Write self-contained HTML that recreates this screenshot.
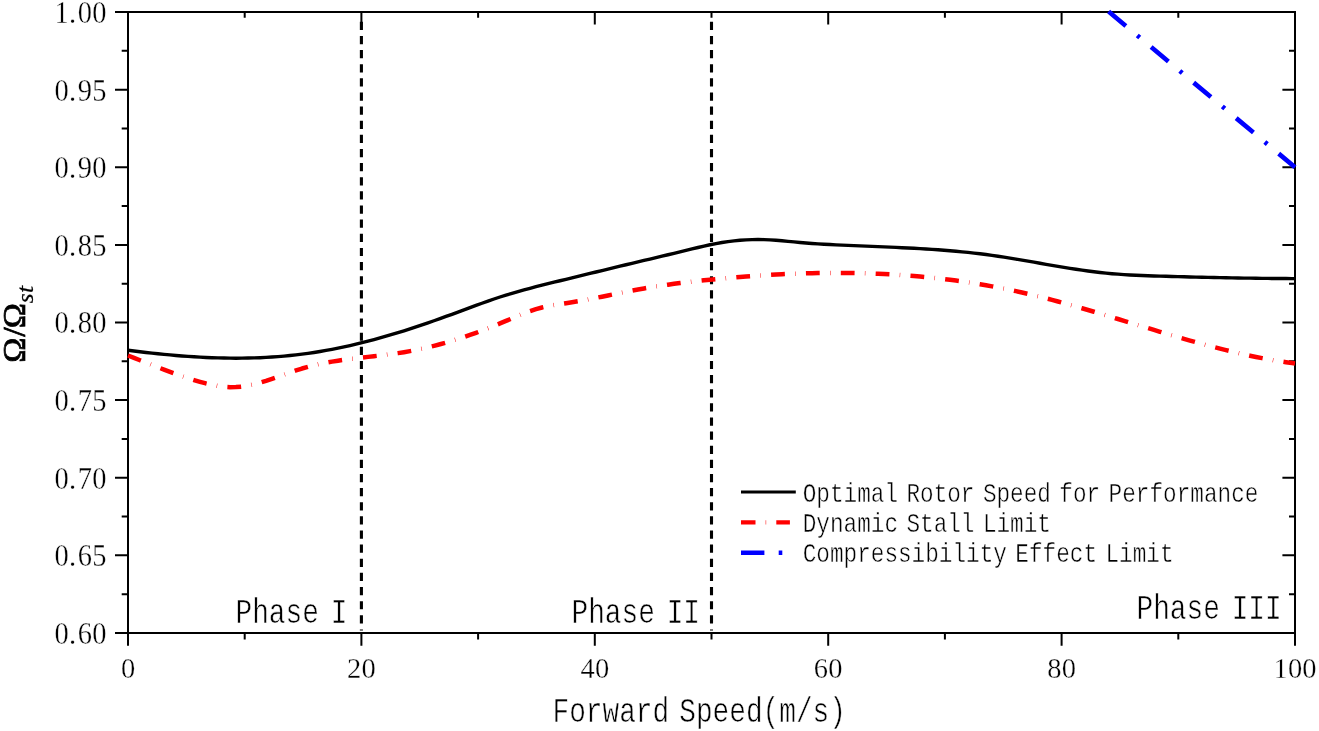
<!DOCTYPE html>
<html lang="en">
<head>
<meta charset="utf-8">
<title>Rotor speed limits versus forward speed</title>
<style>
html,body{margin:0;padding:0;background:#fff;}
body{width:1319px;height:731px;overflow:hidden;}
svg{display:block;}
text{white-space:pre;}
</style>
</head>
<body>
<svg width="1319" height="731" viewBox="0 0 1319 731">
<rect width="1319" height="731" fill="#fff"/>
<g stroke="#000" stroke-width="2" fill="none">
<path d="M115 633H128M1282.4 633H1295M121.7 594.19H128M1289 594.19H1295M115 555.37H128M1282.4 555.37H1295M121.7 516.56H128M1289 516.56H1295M115 477.75H128M1282.4 477.75H1295M121.7 438.94H128M1289 438.94H1295M115 400.12H128M1282.4 400.12H1295M121.7 361.31H128M1289 361.31H1295M115 322.5H128M1282.4 322.5H1295M121.7 283.69H128M1289 283.69H1295M115 244.88H128M1282.4 244.88H1295M121.7 206.06H128M1289 206.06H1295M115 167.25H128M1282.4 167.25H1295M121.7 128.44H128M1289 128.44H1295M115 89.63H128M1282.4 89.63H1295M121.7 50.81H128M1289 50.81H1295M115 12H128M1282.4 12H1295M128 633V645.7M128 12V24.6M244.7 633V639.4M244.7 12V17.8M361.4 633V645.7M361.4 12V24.6M478.1 633V639.4M478.1 12V17.8M594.8 633V645.7M594.8 12V24.6M711.5 633V639.4M711.5 12V17.8M828.2 633V645.7M828.2 12V24.6M944.9 633V639.4M944.9 12V17.8M1061.6 633V645.7M1061.6 12V24.6M1178.3 633V639.4M1178.3 12V17.8M1295 633V645.7M1295 12V24.6"/>
<rect x="128" y="12" width="1167" height="621"/>
</g>
<line x1="361.4" y1="21.8" x2="361.4" y2="630.4" stroke="#000" stroke-width="3.1" stroke-dasharray="8.2 5.93"/>
<line x1="711.5" y1="21.8" x2="711.5" y2="630.4" stroke="#000" stroke-width="3.1" stroke-dasharray="8.2 5.93"/>
<g fill="none" stroke-linejoin="round">
<path d="M128 350.28 134 351.03 140 351.76 146 352.46 152 353.13 158 353.76 164 354.36 170 354.93 176 355.45 182 355.94 188 356.38 194 356.78 200 357.14 206 357.44 212 357.7 218 357.9 224 358.05 230 358.14 236 358.18 242 358.15 248 358.07 254 357.92 260 357.7 266 357.42 272 357.06 278 356.64 284 356.14 290 355.56 296 354.91 302 354.18 308 353.36 314 352.47 320 351.5 326 350.45 332 349.33 338 348.14 344 346.88 350 345.55 356 344.15 362 342.68 368 341.16 374 339.57 380 337.92 386 336.21 392 334.45 398 332.64 404 330.77 410 328.86 416 326.89 422 324.88 428 322.83 434 320.74 440 318.61 446 316.46 452 314.29 458 312.09 464 309.89 470 307.67 476 305.44 482 303.23 488 301.07 494 298.99 500 297.01 506 295.13 512 293.32 518 291.59 524 289.92 530 288.3 536 286.73 542 285.2 548 283.7 554 282.22 560 280.75 566 279.28 572 277.81 578 276.35 584 274.89 590 273.44 596 271.98 602 270.54 608 269.09 614 267.64 620 266.2 626 264.77 632 263.33 638 261.9 644 260.47 650 259.04 656 257.61 662 256.17 668 254.74 674 253.3 680 251.85 686 250.4 692 248.94 698 247.49 704 246.08 710 244.77 716 243.58 722 242.53 728 241.63 734 240.88 740 240.29 746 239.86 752 239.6 758 239.51 764 239.6 770 239.86 776 240.26 782 240.76 788 241.32 794 241.9 800 242.48 806 243.01 812 243.47 818 243.88 824 244.24 830 244.56 836 244.86 842 245.14 848 245.4 854 245.66 860 245.91 866 246.15 872 246.4 878 246.64 884 246.89 890 247.15 896 247.41 902 247.69 908 247.99 914 248.3 920 248.64 926 249 932 249.38 938 249.8 944 250.25 950 250.73 956 251.26 962 251.82 968 252.43 974 253.08 980 253.79 986 254.55 992 255.36 998 256.23 1004 257.14 1010 258.1 1016 259.09 1022 260.11 1028 261.14 1034 262.19 1040 263.24 1046 264.3 1052 265.34 1058 266.36 1064 267.37 1070 268.34 1076 269.27 1082 270.16 1088 271 1094 271.78 1100 272.5 1106 273.14 1112 273.7 1118 274.18 1124 274.6 1130 274.96 1136 275.26 1142 275.53 1148 275.75 1154 275.95 1160 276.13 1166 276.3 1172 276.46 1178 276.63 1184 276.78 1190 276.94 1196 277.09 1202 277.23 1208 277.37 1214 277.5 1220 277.63 1226 277.75 1232 277.87 1238 277.98 1244 278.08 1250 278.17 1256 278.26 1262 278.34 1268 278.41 1274 278.47 1280 278.52 1286 278.56 1292 278.59 1295 278.6" stroke="#000" stroke-width="3.4"/>
<path d="M128 355.52 134 357.86 140 360.22 146 362.59 152 364.95 158 367.3 164 369.61 170 371.87 176 374.06 182 376.16 188 378.17 194 380.07 200 381.83 206 383.45 212 384.85 218 385.98 224 386.77 230 387.17 236 387.1 242 386.56 248 385.6 254 384.29 260 382.69 266 380.86 272 378.86 278 376.76 284 374.61 290 372.48 296 370.43 302 368.53 308 366.81 314 365.28 320 363.92 326 362.71 332 361.63 338 360.66 344 359.79 350 358.99 356 358.25 362 357.55 368 356.87 374 356.19 380 355.49 386 354.76 392 353.98 398 353.12 404 352.18 410 351.12 416 349.96 422 348.69 428 347.32 434 345.84 440 344.27 446 342.59 452 340.82 458 338.95 464 337 470 334.95 476 332.82 482 330.6 488 328.29 494 325.91 500 323.45 506 320.92 512 318.33 518 315.78 524 313.34 530 311.08 536 309.1 542 307.46 548 306.13 554 305.04 560 304.08 566 303.19 572 302.27 578 301.27 584 300.21 590 299.08 596 297.9 602 296.69 608 295.46 614 294.23 620 293 626 291.79 632 290.61 638 289.48 644 288.41 650 287.39 656 286.43 662 285.52 668 284.66 674 283.84 680 283.07 686 282.33 692 281.63 698 280.96 704 280.31 710 279.7 716 279.1 722 278.53 728 277.98 734 277.46 740 276.96 746 276.48 752 276.04 758 275.62 764 275.23 770 274.86 776 274.53 782 274.22 788 273.94 794 273.69 800 273.48 806 273.29 812 273.14 818 273.02 824 272.94 830 272.88 836 272.86 842 272.88 848 272.93 854 273.02 860 273.14 866 273.31 872 273.51 878 273.74 884 274.02 890 274.34 896 274.7 902 275.09 908 275.53 914 276.01 920 276.54 926 277.1 932 277.71 938 278.37 944 279.07 950 279.81 956 280.6 962 281.44 968 282.32 974 283.25 980 284.23 986 285.26 992 286.34 998 287.47 1004 288.65 1010 289.88 1016 291.16 1022 292.5 1028 293.88 1034 295.32 1040 296.8 1046 298.32 1052 299.89 1058 301.49 1064 303.13 1070 304.81 1076 306.51 1082 308.23 1088 309.98 1094 311.75 1100 313.54 1106 315.35 1112 317.16 1118 318.99 1124 320.82 1130 322.65 1136 324.49 1142 326.32 1148 328.15 1154 329.97 1160 331.78 1166 333.58 1172 335.36 1178 337.12 1184 338.85 1190 340.57 1196 342.25 1202 343.91 1208 345.53 1214 347.11 1220 348.66 1226 350.16 1232 351.62 1238 353.03 1244 354.38 1250 355.69 1256 356.94 1262 358.13 1268 359.25 1274 360.32 1280 361.31 1286 362.23 1292 363.08 1295 363.48" stroke="#f00" stroke-width="4.5" stroke-dasharray="13.8 10.285 0.5 10.285"/>
<path d="M1108.6 11.6L1295 167.25" stroke="#00f" stroke-width="4.6" stroke-dasharray="22.5 14.85 3.2 14.85"/>
<path d="M741 491.9H795.8" stroke="#000" stroke-width="3"/>
<path d="M741 522.4H795.8" stroke="#f00" stroke-width="4.2" stroke-dasharray="14.5 10.15 0.5 10.15 13.6 40"/>
<path d="M741 552.8H795.8" stroke="#00f" stroke-width="4.5" stroke-dasharray="23.4 14.3 3.6 40"/>
</g>
<g font-family="'Liberation Serif', 'Noto Serif CJK SC', serif" fill="#000">
<text x="54.5 68.96 77.7 92.15" y="644" font-size="28.5" stroke="#fff" stroke-width="0.3" transform="matrix(1 0 0 1.12 0 -77.280)">0.60</text>
<text x="54.5 68.96 77.7 92.15" y="566.37" font-size="28.5" stroke="#fff" stroke-width="0.3" transform="matrix(1 0 0 1.12 0 -67.965)">0.65</text>
<text x="54.5 68.96 77.7 92.15" y="488.75" font-size="28.5" stroke="#fff" stroke-width="0.3" transform="matrix(1 0 0 1.12 0 -58.650)">0.70</text>
<text x="54.5 68.96 77.7 92.15" y="411.12" font-size="28.5" stroke="#fff" stroke-width="0.3" transform="matrix(1 0 0 1.12 0 -49.335)">0.75</text>
<text x="54.5 68.96 77.7 92.15" y="333.5" font-size="28.5" stroke="#fff" stroke-width="0.3" transform="matrix(1 0 0 1.12 0 -40.020)">0.80</text>
<text x="54.5 68.96 77.7 92.15" y="255.88" font-size="28.5" stroke="#fff" stroke-width="0.3" transform="matrix(1 0 0 1.12 0 -30.705)">0.85</text>
<text x="54.5 68.96 77.7 92.15" y="178.25" font-size="28.5" stroke="#fff" stroke-width="0.3" transform="matrix(1 0 0 1.12 0 -21.390)">0.90</text>
<text x="54.5 68.96 77.7 92.15" y="100.63" font-size="28.5" stroke="#fff" stroke-width="0.3" transform="matrix(1 0 0 1.12 0 -12.075)">0.95</text>
<text x="54.5 68.96 77.7 92.15" y="23" font-size="28.5" stroke="#fff" stroke-width="0.3" transform="matrix(1 0 0 1.12 0 -2.760)">1.00</text>
<text x="120.88" y="678.2" font-size="28.5" stroke="#fff" stroke-width="0.3" transform="matrix(1 0 0 1.05 0 -33.910)">0</text>
<text x="347.05 361.5" y="678.2" font-size="28.5" stroke="#fff" stroke-width="0.3" transform="matrix(1 0 0 1.05 0 -33.910)">20</text>
<text x="580.45 594.9" y="678.2" font-size="28.5" stroke="#fff" stroke-width="0.3" transform="matrix(1 0 0 1.05 0 -33.910)">40</text>
<text x="813.85 828.3" y="678.2" font-size="28.5" stroke="#fff" stroke-width="0.3" transform="matrix(1 0 0 1.05 0 -33.910)">60</text>
<text x="1047.25 1061.7" y="678.2" font-size="28.5" stroke="#fff" stroke-width="0.3" transform="matrix(1 0 0 1.05 0 -33.910)">80</text>
<text x="1273.42 1287.88 1302.33" y="678.2" font-size="28.5" stroke="#fff" stroke-width="0.3" transform="matrix(1 0 0 1.05 0 -33.910)">100</text>
<text x="552.5" y="721.8" font-size="27.8" font-family="'Liberation Mono', 'Noto Serif CJK SC', monospace" word-spacing="-6.68" stroke="#fff" stroke-width="0.45" transform="matrix(1 0 0 1.2562 0 -184.944)">Forward Speed(m/s)</text>
<text x="235.5" y="622.7" font-size="27.8" font-family="'Liberation Mono', 'Noto Serif CJK SC', monospace" word-spacing="-4.88" stroke="#fff" stroke-width="0.45" transform="matrix(1 0 0 1.2562 0 -159.552)">Phase I</text>
<text x="571.5" y="622.7" font-size="27.8" font-family="'Liberation Mono', 'Noto Serif CJK SC', monospace" word-spacing="-4.88" stroke="#fff" stroke-width="0.45" transform="matrix(1 0 0 1.2562 0 -159.552)">Phase II</text>
<text x="1136.5" y="619.5" font-size="27.8" font-family="'Liberation Mono', 'Noto Serif CJK SC', monospace" word-spacing="-4.88" stroke="#fff" stroke-width="0.45" transform="matrix(1 0 0 1.2562 0 -158.732)">Phase III</text>
<text x="802.7" y="501.8" font-size="22.7" font-family="'Liberation Mono', 'Noto Serif CJK SC', monospace" word-spacing="-5.22" stroke="#fff" stroke-width="0.4" transform="matrix(1 0 0 1.2241 0 -112.444)">Optimal Rotor Speed for Performance</text>
<text x="802.7" y="532" font-size="22.7" font-family="'Liberation Mono', 'Noto Serif CJK SC', monospace" word-spacing="-5.22" stroke="#fff" stroke-width="0.4" transform="matrix(1 0 0 1.2241 0 -119.211)">Dynamic Stall Limit</text>
<text x="802.7" y="562.3" font-size="22.7" font-family="'Liberation Mono', 'Noto Serif CJK SC', monospace" word-spacing="-5.22" stroke="#fff" stroke-width="0.4" transform="matrix(1 0 0 1.2241 0 -126.000)">Compressibility Effect Limit</text>
<text transform="translate(25.3 362) rotate(-90) scale(1.06 1)" font-size="32" stroke="#000" stroke-width="0.7" x="-0.7 23.85 31.76">Ω/Ω<tspan font-style="italic" font-size="24" stroke-width="0.25" x="55.4 65" dy="7.2">st</tspan></text>
</g>
</svg>
</body>
</html>
